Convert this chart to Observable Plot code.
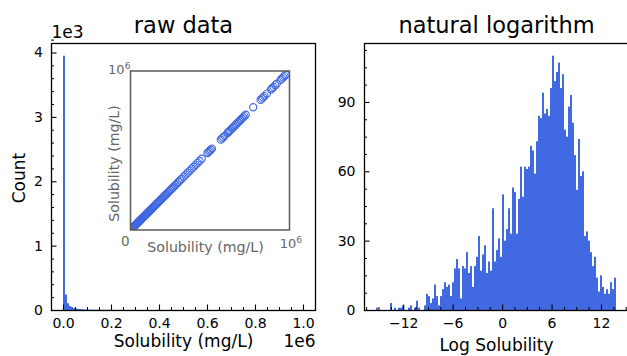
<!DOCTYPE html>
<html><head><meta charset="utf-8">
<script src="https://cdn.jsdelivr.net/npm/d3@7"></script>
<script src="https://cdn.jsdelivr.net/npm/@observablehq/plot@0.6"></script>
<style>
html,body{margin:0;padding:0;background:#fff;overflow:hidden;width:627px;height:356px;}
#root{position:relative;width:627px;height:356px;overflow:hidden;}
#root svg{position:absolute;overflow:visible;}
</style></head><body><div id="root"></div>
<script>
// ---- data ----
// right panel: counts per bin of ln(solubility), 120 bins from lnMin to lnMax
const lnMin = -15.3, lnMax = 13.82;
const rightCounts = [1,0,0,0,0,0,0,3,0,1, 0,1,1,2,0,0,1,2,0,1,
  4,1,0,0,2,7,6,3,5,11, 6,2,6,9,12,10,11,6,12,18,
  22,18,5,19,18,25,16,19,10,19, 23,32,17,24,28,16,21,17,44,21,
  26,31,23,50,30,35,44,33,53,51, 33,48,62,49,62,61,62,71,69,59,
  73,84,83,94,85,87,84,96,110,99, 103,107,96,102,78,75,88,93,81,67,
  52,74,58,60,32,34,30,25,19,23, 14,8,15,10,7,9,7,12,9,14];
// left panel: counts per bin of raw solubility (mg/L), 120 bins from rawMin to rawMax
const rawMin = 0, rawMax = 1e6;
const leftCounts = [3950,238,105,62,47,30,24,18,15,12, 10,8,7,6,5,4,4,3,3,3,
  2,3,2,2,1,2,2,1,2,1, 1,2,1,1,2,1,1,1,2,1, 1,1,2,1,1,1,1,2,1,1,
  1,1,1,2,1,1,1,1,1,1, 2,1,1,1,1,1,2,1,1,1, 1,1,1,1,1,1,1,2,1,1,
  1,1,1,1,1,1,1,1,1,1, 1,1,1,1,1,1,1,1,1,1, 1,1,1,1,1,1,1,1,1,1, 1,1,1,1,1,1,1,1,1,1];
// inset: solubility values (mg/L) plotted against themselves
const insetValues = [0,300,600,1000,1500,2000,2500,3000,4000,5000,6000,7000,8000,9000,10000,
  11500,13000,14500,16000,17500,19000,20500,22000,23500,25000,26500,28000,29500,31000,32500,
  34000,35500,37000,38500,40000,42000,44000,46000,48000,50000,52000,54000,56000,58000,60000,
  62000,64000,66000,68000,70000,72000,74000,76000,78000,80000,83000,86000,89000,92000,95000,
  98000,101000,104000,107000,110000,113000,116000,119000,122000,126000,130000,134000,138000,
  142000,146000,150000,155000,160000,165000,170000,175000,180000,186000,192000,198000,204000,
  210000,216000,222000,229000,236000,243000,250000,258000,266000,274000,283000,292000,302000,
  312000,322000,335000,348000,360000,372000,385000,398000,410000,422000,434000,448000,
  484000,491000,498000,505000,512000,568000,576000,584000,592000,610000,616000,622000,628000,
  636000,644000,652000,660000,668000,676000,684000,692000,700000,708000,716000,725000,
  772000,818000,826000,834000,842000,858000,884000,892000,900000,910000,920000,944000,952000,
  960000,968000,976000];
// ticks
const leftXMajor = [0, 2e5, 4e5, 6e5, 8e5, 1e6];
const leftXMinor = [-5e4, 5e4, 1e5, 1.5e5, 2.5e5, 3e5, 3.5e5, 4.5e5, 5e5, 5.5e5, 6.5e5, 7e5, 7.5e5, 8.5e5, 9e5, 9.5e5, 1.05e6];
const leftYMajor = [0, 1000, 2000, 3000, 4000];
const leftYMinor = [200,400,600,800,1200,1400,1600,1800,2200,2400,2600,2800,3200,3400,3600,3800,4200];
const rightXMajor = [-12, -6, 0, 6, 12];
const rightXMinor = [-16.5,-15,-13.5,-10.5,-9,-7.5,-4.5,-3,-1.5,1.5,3,4.5,7.5,9,10.5,13.5,15];
const rightYMajor = [0, 30, 60, 90];
const rightYMinor = [7.5,15,22.5,37.5,45,52.5,67.5,75,82.5,97.5,105,112.5];
// texts
const leftTitle = "raw data", rightTitle = "natural logarithm";
const leftXLabel = "Solubility (mg/L)", rightXLabel = "Log Solubility", leftYLabel = "Count";
const leftXOffset = "1e6", leftYOffset = "1e3";
const insetLabel = "Solubility (mg/L)";
const insetZero = "0", insetBase = "10", insetExp = "6";

// ---- build ----
const blue = "#4169e1";
const grey = "#666666";
const font = "DejaVu Sans, sans-serif";
const root = document.getElementById("root");
const minus = s => String(s).replace("-", "\u2212");

const lw = (rawMax - rawMin) / leftCounts.length;
const leftBins = leftCounts.map((c, i) => ({x1: rawMin + i * lw, x2: rawMin + (i + 1) * lw, count: c}));
const rw = (lnMax - lnMin) / rightCounts.length;
const rightBins = rightCounts.map((c, i) => ({x1: lnMin + i * rw, x2: lnMin + (i + 1) * rw, count: c}));

function place(svg, left, top) {
  svg.style.left = left + "px";
  svg.style.top = top + "px";
  root.appendChild(svg);
}
const baseStyle = {fontFamily: font, fontSize: "14px", color: "#000", background: "transparent", overflow: "visible"};
const one = s => [s];

const lpad = 0.05 * (rawMax - rawMin);
const leftPlot = Plot.plot({
  width: 330, height: 356, marginLeft: 51, marginRight: 15, marginTop: 43, marginBottom: 46,
  style: baseStyle,
  x: {domain: [rawMin - lpad, rawMax + lpad], label: null},
  y: {domain: [0, d3.max(leftCounts) * 1.05], label: null},
  marks: [
    Plot.rectY(leftBins, {x1: "x1", x2: "x2", y: "count", fill: blue}),
    Plot.axisX(leftXMinor, {tickSize: -3, tickFormat: () => "", strokeWidth: 1, label: null}),
    Plot.axisX(leftXMajor, {tickSize: -5.5, tickPadding: 13.5, tickFormat: d => (d / 1e6).toFixed(1), strokeWidth: 1.1, label: null}),
    Plot.axisY(leftYMinor, {tickSize: -3, tickFormat: () => "", strokeWidth: 1, label: null}),
    Plot.axisY(leftYMajor, {tickSize: -5.5, tickPadding: 14, tickFormat: d => d / 1000, strokeWidth: 1.1, label: null}),
    Plot.frame({stroke: "#000", strokeWidth: 1.3}),
    Plot.text(one(leftTitle), {text: d => d, frameAnchor: "top", textAnchor: "middle", dy: -11, lineAnchor: "bottom", fontSize: 22.5}),
    Plot.text(one(leftYOffset), {text: d => d, frameAnchor: "top-left", textAnchor: "start", dy: -5.5, lineAnchor: "bottom", fontSize: 17}),
    Plot.text(one(leftXLabel), {text: d => d, frameAnchor: "bottom", textAnchor: "middle", dy: 36, lineAnchor: "bottom", fontSize: 17}),
    Plot.text(one(leftXOffset), {text: d => d, frameAnchor: "bottom-right", textAnchor: "end", dy: 36, lineAnchor: "bottom", fontSize: 17}),
    Plot.text(one(leftYLabel), {text: d => d, frameAnchor: "left", textAnchor: "middle", rotate: -90, dx: -27, dy: 1, lineAnchor: "bottom", fontSize: 17})
  ]
});
place(leftPlot, 0, 0);

const insetPlot = Plot.plot({
  width: 200, height: 210, marginLeft: 30, marginRight: 11, marginTop: 20.5, marginBottom: 30.5,
  style: baseStyle,
  x: {domain: [0, 1e6], axis: null},
  y: {domain: [0, 1e6], axis: null},
  marks: [
    Plot.frame({fill: "white"}),
    Plot.dot(insetValues, {x: d => d, y: d => d, r: 3.6, stroke: blue, fill: "none", strokeWidth: 1.1, clip: true}),
    Plot.frame({stroke: "#5a5a5a", strokeWidth: 1.5}),
    Plot.text(one(insetZero), {text: d => d, frameAnchor: "bottom-left", textAnchor: "end", dx: -1, dy: 15.5, lineAnchor: "bottom", fill: grey, fontSize: 13.5}),
    Plot.text(one(insetBase), {text: d => d, frameAnchor: "top-left", textAnchor: "end", dx: -6, dy: 3, lineAnchor: "bottom", fill: grey, fontSize: 13}),
    Plot.text(one(insetExp), {text: d => d, frameAnchor: "top-left", textAnchor: "end", dx: 0, dy: -2, lineAnchor: "bottom", fill: grey, fontSize: 9.1}),
    Plot.text(one(insetBase), {text: d => d, frameAnchor: "bottom-right", textAnchor: "start", dx: -9.7, dy: 18, lineAnchor: "bottom", fill: grey, fontSize: 13}),
    Plot.text(one(insetExp), {text: d => d, frameAnchor: "bottom-right", textAnchor: "start", dx: 6.8, dy: 13, lineAnchor: "bottom", fill: grey, fontSize: 9.1}),
    Plot.text(one(insetLabel), {text: d => d, frameAnchor: "bottom", textAnchor: "middle", dx: -4.5, dy: 21.5, lineAnchor: "bottom", fill: grey, fontSize: 14.2}),
    Plot.text(one(insetLabel), {text: d => d, frameAnchor: "left", textAnchor: "middle", rotate: -90, dx: -12, dy: 13, lineAnchor: "bottom", fill: grey, fontSize: 14.2})
  ]
});
place(insetPlot, 100, 50);

const rpad = 0.05 * (lnMax - lnMin);
const rightPlot = Plot.plot({
  width: 320, height: 356, marginLeft: 44, marginRight: 12, marginTop: 43, marginBottom: 46,
  style: baseStyle,
  x: {domain: [lnMin - rpad, lnMax + rpad], label: null},
  y: {domain: [0, d3.max(rightCounts) * 1.05], label: null},
  marks: [
    Plot.rectY(rightBins, {x1: "x1", x2: "x2", y: "count", fill: blue}),
    Plot.axisX(rightXMinor, {tickSize: -3, tickFormat: () => "", strokeWidth: 1, label: null}),
    Plot.axisX(rightXMajor, {tickSize: -5.5, tickPadding: 13.5, tickFormat: d => minus(d), strokeWidth: 1.1, label: null}),
    Plot.axisY(rightYMinor, {tickSize: -3, tickFormat: () => "", strokeWidth: 1, label: null}),
    Plot.axisY(rightYMajor, {tickSize: -5.5, tickPadding: 14.5, tickFormat: d => d, strokeWidth: 1.1, label: null}),
    Plot.frame({stroke: "#000", strokeWidth: 1.3}),
    Plot.text(one(rightTitle), {text: d => d, frameAnchor: "top", textAnchor: "middle", dy: -11, lineAnchor: "bottom", fontSize: 22.5}),
    Plot.text(one(rightXLabel), {text: d => d, frameAnchor: "bottom", textAnchor: "middle", dy: 40, lineAnchor: "bottom", fontSize: 17})
  ]
});
place(rightPlot, 320, 0);
</script></body></html>
